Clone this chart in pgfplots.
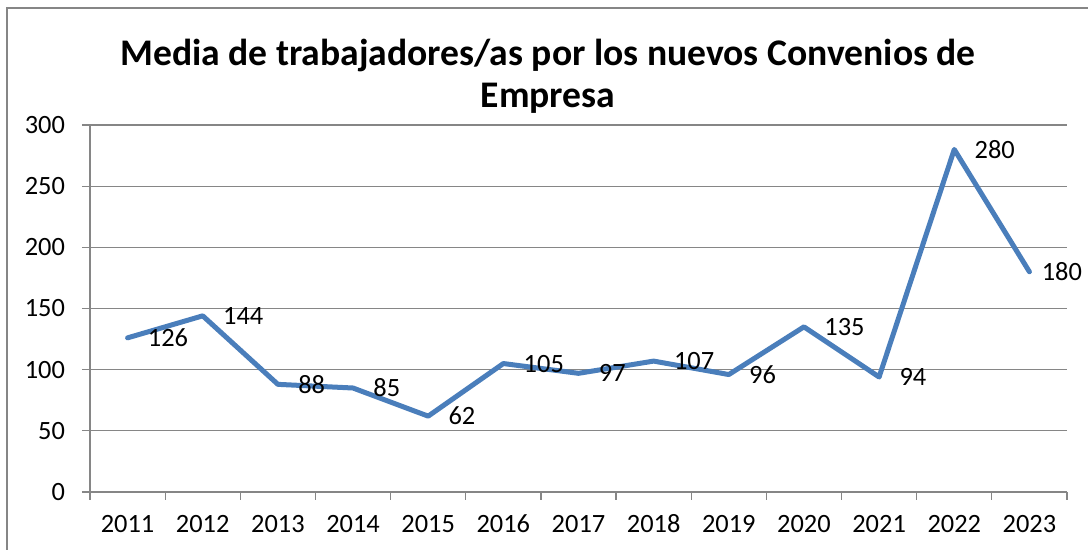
\documentclass[border=0pt]{standalone}
\usepackage{pgfplots}
\pgfplotsset{compat=1.18}
\usepackage{fontspec}
\setmainfont{Carlito}
\definecolor{lineblue}{HTML}{4A7EBB}
\definecolor{gridgray}{HTML}{868686}
\begin{document}
\begin{tikzpicture}[x=1pt,y=1pt]
\useasboundingbox (-45,-29) rectangle (499,246);
\draw[gridgray, line width=0.8pt] (-41.5,-40) -- (-41.5,242) -- (510,242);
\node[font=\bfseries\fontsize{18.8}{21}\selectfont, align=center] at (229,208) {Media de trabajadores/as por los nuevos Convenios de\\Empresa};
\begin{axis}[
  at={(0,0)}, anchor=south west,
  scale only axis, width=488.5pt, height=183.5pt,
  xmin=-0.5, xmax=12.5, ymin=0, ymax=300,
  axis x line*=bottom, axis y line*=left,
  axis line style={-, gridgray, line width=0.6pt},
  xtick={-0.5,0.5,1.5,2.5,3.5,4.5,5.5,6.5,7.5,8.5,9.5,10.5,11.5,12.5},
  xticklabels={2011,2012,2013,2014,2015,2016,2017,2018,2019,2020,2021,2022,2023,{}},
  xticklabel style={anchor=base, xshift=18.79pt, yshift=-16.5pt},
  ytick={0,50,...,300},
  yticklabel style={xshift=-5pt},
  ymajorgrids,
  grid style={gridgray, line width=0.6pt},
  tick align=outside, major tick length=4pt,
  tick style={gridgray, line width=0.6pt},
  ticklabel style={font=\fontsize{13.2}{15}\selectfont, black},
  /pgf/number format/assume math mode=true,
  clip=false,
]
\addplot[lineblue, line width=2.5pt, line join=round, line cap=round]
  coordinates {(0,126) (1,144) (2,88) (3,85) (4,62) (5,105) (6,97) (7,107) (8,96) (9,135) (10,94) (11,280) (12,180)};
\addplot[draw=none, nodes near coords,
  every node near coord/.append style={anchor=west, inner sep=0pt, xshift=10pt, font=\fontsize{13.2}{15}\selectfont, black}]
  coordinates {(0,126) (1,144) (2,88) (3,85) (4,62) (5,105) (6,97) (7,107) (8,96) (9,135) (10,94) (11,280)};
\addplot[draw=none, nodes near coords,
  every node near coord/.append style={anchor=west, inner sep=0pt, xshift=6pt, font=\fontsize{13.2}{15}\selectfont, black}]
  coordinates {(12,180)};
\end{axis}
\end{tikzpicture}
\end{document}
